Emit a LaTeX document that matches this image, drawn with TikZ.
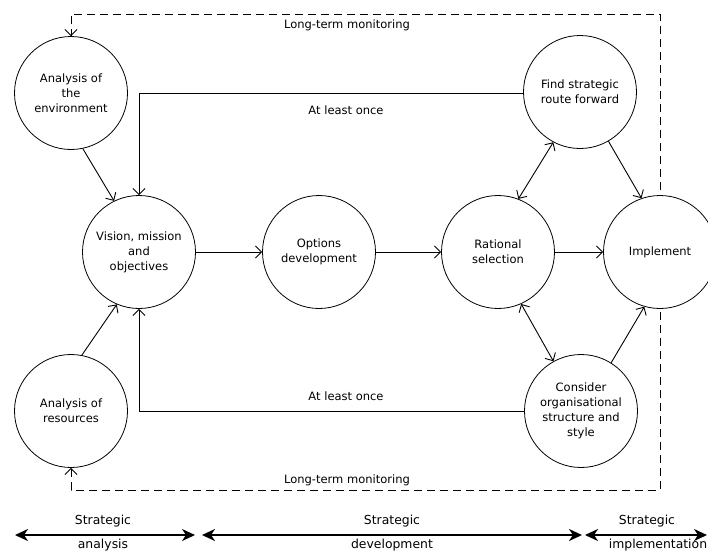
\documentclass[tikz,border=0pt]{standalone}
\usepackage{fontspec}
\setmainfont{DejaVu Sans}
\usetikzlibrary{arrows.meta}
\begin{document}
\begin{tikzpicture}[x=1pt,y=-1pt,
  circ/.style={circle,draw,line width=0.8pt,minimum size=113pt,inner sep=0pt,align=center,font=\fontsize{11.5}{15}\selectfont},
  tip/.tip={Straight Barb[length=6pt,width=12pt,line width=0.9pt]},
  conn/.style={line width=0.9pt,-tip},
  biconn/.style={line width=0.9pt,tip-tip},
  mon/.style={line width=0.8pt,dash pattern=on 8pt off 5pt},
  lbl/.style={font=\fontsize{11.5}{14}\selectfont,inner sep=0pt},
  phase/.style={line width=2pt,{Stealth[length=13pt,width=12pt,inset=4pt]}-{Stealth[length=13pt,width=12pt,inset=4pt]}},
  plbl/.style={font=\fontsize{12.4}{15}\selectfont,inner sep=0pt,anchor=base}
]
\useasboundingbox (0,0) rectangle (708,555);
\begin{scope}
\clip (0,0) rectangle (708,555);
\node[circ] (env) at (71,93) {Analysis of\\the\\environment};
\node[circ] (vis) at (139,252) {Vision, mission\\and\\objectives};
\node[circ] (opt) at (319,252) {Options\\development};
\node[circ] (rat) at (498,252) {Rational\\selection};
\node[circ] (imp) at (660,252) {Implement};
\node[circ] (find) at (580,92) {Find strategic\\route forward};
\node[circ] (cons) at (581,411) {Consider\\organisational\\structure and\\style};
\node[circ] (res) at (71,411) {Analysis of\\resources};
\end{scope}

% main flow
\draw[conn] (env.-78) -- (vis.116);
\draw[conn] (res.79) -- (vis.-113);
\draw[conn] (vis) -- (opt);
\draw[conn] (opt) -- (rat);
\draw[conn] (rat) -- (imp);
\draw[biconn] (find.-118) -- (rat.69);
\draw[biconn] (rat.-66) -- (cons.119);
\draw[conn] (find.-60) -- (imp.109);
\draw[conn] (cons.58) -- (imp.-106);

% at least once loops
\draw[conn] (find.west |- 0,93) -| (vis.north);
\draw[conn] (cons.west) -| (vis.south);
\node[lbl] (once1) at (346,110) {At least once};
\node[lbl] (once2) at (346,396) {At least once};

% long-term monitoring
\coordinate (mt) at (660,190);
\coordinate (mb) at (660,312);
\draw[mon] (mt) -- (660,14) -| ([yshift=-0.1pt]env.north);
\draw[conn,dash pattern=on 0pt off 100pt] (71,20) -- (env.north);
\draw[mon] (mb) -- (660,490) -| ([yshift=0.1pt]res.south);
\draw[conn,dash pattern=on 0pt off 100pt] (71,484) -- (res.south);
\node[lbl] (mon1) at (347,25) {Long-term monitoring};
\node[lbl] (mon2) at (347,480) {Long-term monitoring};

% phases
\coordinate (a1) at (15,535);
\coordinate (a2) at (195,535);
\coordinate (d1) at (202,535);
\coordinate (d2) at (582,535);
\coordinate (i1) at (585,535);
\coordinate (i2) at (707,535);
\draw[phase] (a1) -- (a2);
\draw[phase] (d1) -- (d2);
\draw[phase] (i1) -- (i2);
\node[plbl] (sa) at (103,524) {Strategic};
\node[plbl] (sa2) at (103,548) {analysis};
\node[plbl] (sd) at (392,524) {Strategic};
\node[plbl] (sd2) at (392,548) {development};
\node[plbl] (si) at (647,524) {Strategic};
\node[plbl] (si2) at (658,548) {implementation};
\end{tikzpicture}
\end{document}
